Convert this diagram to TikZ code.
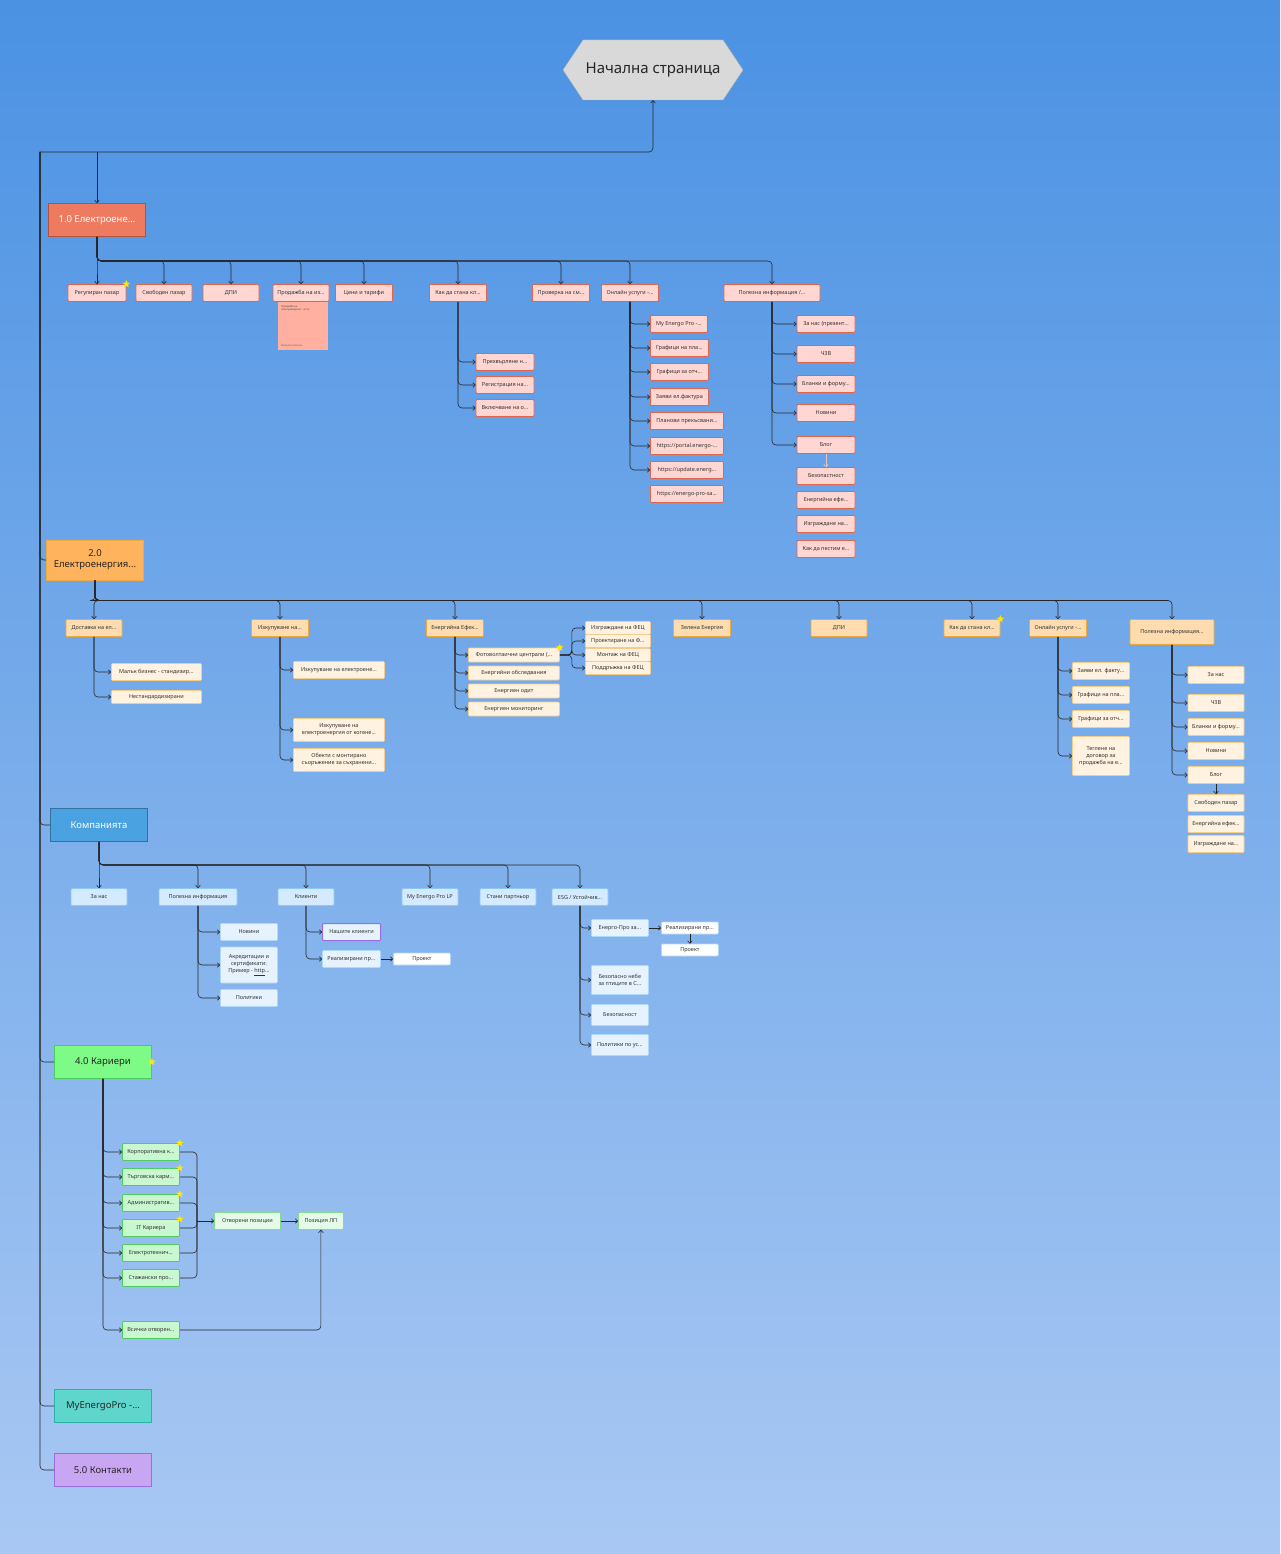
\documentclass[tikz,border=0pt]{standalone}
\usepackage{fontspec}
\setmainfont{Noto Sans}
\usetikzlibrary{shapes.geometric,arrows.meta}

\definecolor{bgtop}{HTML}{4B92E3}
\definecolor{bgbot}{HTML}{A9C8F3}
\definecolor{homegray}{HTML}{D9D9D9}
\definecolor{redsec}{HTML}{EE7B5F}
\definecolor{redline}{HTML}{E0674E}
\definecolor{redfill}{HTML}{FFD6D2}
\definecolor{sticky}{HTML}{FFB0A0}
\definecolor{orsec}{HTML}{FFB35C}
\definecolor{orline}{HTML}{EFAA3E}
\definecolor{orfill}{HTML}{FFDCB0}
\definecolor{crfill}{HTML}{FFF2E0}
\definecolor{blsec}{HTML}{4AA3E0}
\definecolor{blline}{HTML}{8CC8F5}
\definecolor{blfill}{HTML}{D3EAFF}
\definecolor{bllight}{HTML}{E6F3FF}
\definecolor{grsec}{HTML}{7DFB86}
\definecolor{grline}{HTML}{4FCC5E}
\definecolor{grfill}{HTML}{C9F7CF}
\definecolor{grlight}{HTML}{E4FBE7}
\definecolor{tlsec}{HTML}{5FD6CC}
\definecolor{tlline}{HTML}{2AB3A6}
\definecolor{ppsec}{HTML}{C9A6F2}
\definecolor{ppline}{HTML}{9B6EE0}

\tikzset{
  box/.style={draw, rounded corners=1pt, line width=0.8pt, minimum height=17, inner sep=1pt,
    align=center, text=black!80, font=\fontsize{5.5}{7}\selectfont},
  sec/.style={draw, line width=0.9pt, minimum height=33, minimum width=97, inner sep=2pt,
    align=center, font=\fontsize{9.5}{11}\selectfont},
  rb/.style={box, fill=redfill, draw=redline},
  ob/.style={box, fill=orfill, draw=orline},
  cb/.style={box, fill=crfill, draw=orline!60},
  bb/.style={box, fill=blfill, draw=blline},
  lb/.style={box, fill=bllight, draw=blline!70},
  gb/.style={box, fill=grfill, draw=grline},
  wb/.style={box, fill=grlight, draw=grline!70},
  conn/.style={draw=black!85, line width=0.6pt, rounded corners=4, -{To[length=3pt,width=5pt]}},
  line/.style={draw=black!85, line width=0.6pt, rounded corners=4},
  fav/.style={star, star points=5, star point ratio=2.3, fill=yellow!90!orange, draw=none, minimum size=8, inner sep=0}
}

\begin{document}
\begin{tikzpicture}[x=1pt,y=-1pt]
\shade[top color=bgtop, bottom color=bgbot] (0,0) rectangle (1280,1554);
\useasboundingbox (0,0) rectangle (1280,1554);

% Home
\draw[fill=homegray, draw=gray!60] (563,70) -- (583,40) -- (723,40) -- (743,70) -- (723,100) -- (583,100) -- cycle;
\node[minimum width=180, minimum height=60, font=\fontsize{15}{17}\selectfont, text=black!85] (home) at (653,70) {Начална страница};

% Sections
\node[sec, fill=redsec, draw=redline!80!black, text=white] (e10) at (97,220) {1.0 Електроене...};
\node[sec, fill=orsec, draw=orline, minimum height=40, text=black!85] (e20) at (95,560) {2.0\\Електроенергия...};
\node[sec, fill=blsec, draw=blsec!70!black, text=white] (comp) at (99,825) {Компанията};
\node[sec, fill=grsec, draw=grline, text=black!85] (car) at (103,1062) {4.0 Кариери};
\node[sec, fill=tlsec, draw=tlline, text=black!85] (mep) at (103,1406) {MyEnergoPro -...};
\node[sec, fill=ppsec, draw=ppline, text=black!85] (cont) at (103,1470) {5.0 Контакти};
\node[fav] at (car.east) {};

% Trunk
\coordinate (tk) at (40,152);
\coordinate (tk1) at (97,152);
\draw[line, {To[length=3pt,width=5pt]}-] (home.south) |- (tk);
\draw[conn] (tk1) -- (e10.north);
\foreach \s in {e20,comp,car,mep,cont}
  \draw[line] (tk) |- (\s.west);

% ---------- 1.0
\node[rb, minimum width=58] (a1) at (97,293) {Регулиран пазар};
\node[rb, minimum width=56] (a2) at (164,293) {Свободен пазар};
\node[rb, minimum width=56] (a3) at (231,293) {ДПИ};
\node[rb, minimum width=56] (a4) at (301,293) {Продажба на из...};
\node[rb, minimum width=57] (a5) at (364,293) {Цени и тарифи};
\node[rb, minimum width=57] (a6) at (458,293) {Как да стана кл...};
\node[rb, minimum width=57] (a7) at (561,293) {Проверка на см...};
\node[rb, minimum width=57] (a8) at (630,293) {Онлайн услуги -...};
\node[rb, minimum width=96, font=\bfseries\fontsize{5.5}{7}\selectfont] (a9) at (772,293) {Полезна информация /...};
\node[fav] at (a1.north east) {};
\foreach \c in {a1,a2,a3,a4,a5,a6,a7,a8,a9}
  \draw[conn] (e10.south) -- ++(0,24) -| (\c.north);
\node[fill=sticky, minimum width=50, minimum height=48, anchor=north, inner sep=0] (a4n) at (303,302) {};
\node[font=\fontsize{2.5}{3}\selectfont, align=left, anchor=north west, text=black!70] at (a4n.north west) {Продажба на\\електроенергия - чл 53};
\node[font=\fontsize{2.5}{3}\selectfont, anchor=south west, text=black!60] at (a4n.south west) {Ekaterina Ivanova};

\node[rb, minimum width=58, font=\bfseries\fontsize{5.5}{7}\selectfont] (b1) at (505,362) {Прехвърляне н...};
\node[rb, minimum width=58] (b2) at (505,385) {Регистрация на...};
\node[rb, minimum width=58] (b3) at (505,408) {Включване на о...};
\foreach \c in {b1,b2,b3}
  \draw[conn] (a6.south) |- (\c.west);

\node[rb, minimum width=57, anchor=west] (o1) at (650,324) {My Energo Pro -...};
\node[rb, minimum width=58, anchor=west] (o2) at (650,348) {Графици на пла...};
\node[rb, minimum width=58, anchor=west] (o3) at (650,372) {Графици за отч...};
\node[rb, minimum width=58, anchor=west] (o4) at (650,397) {Заяви ел.фактура};
\node[rb, minimum width=73, anchor=west] (o5) at (650,421) {Планови прекъсвани...};
\node[rb, minimum width=73, anchor=west] (o6) at (650,446) {https://portal.energo-...};
\node[rb, minimum width=73, anchor=west] (o7) at (650,470) {https://update.energ...};
\node[rb, minimum width=73, anchor=west] (o8) at (650,494) {https://energo-pro-sa...};
\foreach \c in {o1,o2,o3,o4,o5,o6,o7}
  \draw[conn] (a8.south) |- (\c.west);

\node[rb, minimum width=58] (p1) at (826,324) {За нас (презент...};
\node[rb, minimum width=58] (p2) at (826,354) {ЧЗВ};
\node[rb, minimum width=58] (p3) at (826,384) {Бланки и форму...};
\node[rb, minimum width=58] (p4) at (826,413) {Новини};
\node[rb, minimum width=58] (p5) at (826,445) {Блог};
\node[rb, minimum width=58] (p6) at (826,476) {Безопастност};
\node[rb, minimum width=58] (p7) at (826,500) {Енергийна ефе...};
\node[rb, minimum width=58] (p8) at (826,524) {Изграждане на...};
\node[rb, minimum width=58] (p9) at (826,549) {Как да пестим е...};
\foreach \c in {p1,p2,p3,p4,p5}
  \draw[conn] (a9.south) |- (\c.west);
\draw[conn, draw=redfill!80!gray] (p5.south) -- (p6.north);

% ---------- 2.0
\node[ob, minimum width=56] (d1) at (94,628) {Доставка на ел...};
\node[ob, minimum width=57] (d2) at (280,628) {Изкупуване на...};
\node[ob, minimum width=57] (d3) at (455,628) {Енергийна Ефек...};
\node[ob, minimum width=57] (d4) at (702,628) {Зелена Енергия};
\node[ob, minimum width=56] (d5) at (839,628) {ДПИ};
\node[ob, minimum width=56] (d6) at (972,628) {Как да стана кл...};
\node[ob, minimum width=57] (d7) at (1058,628) {Онлайн услуги -...};
\node[ob, minimum width=84, minimum height=25, font=\bfseries\fontsize{5.5}{7}\selectfont] (d8) at (1172,632) {Полезна информация...};
\node[fav] at (d6.north east) {};
\foreach \c in {d1,d2,d3,d4,d5,d6,d7,d8}
  \draw[conn] (e20.south) -- ++(0,20) -| (\c.north);

\node[cb, minimum width=90, anchor=west] (m1) at (111,672) {Малък бизнес - стандизир...};
\node[cb, minimum width=90, anchor=west, minimum height=13] (m2) at (111,697) {Нестандардизирани};
\foreach \c in {m1,m2}
  \draw[conn] (d1.south) |- (\c.west);

\node[cb, minimum width=91, anchor=west] (k1) at (293,670) {Изкупуване на електроене...};
\node[cb, minimum width=91, anchor=west, minimum height=23] (k2) at (293,730) {Изкупуване на\\електроенергия от когене...};
\node[cb, minimum width=91, anchor=west, minimum height=23] (k3) at (293,760) {Обекти с монтирано\\съоръжение за съхранени...};
\foreach \c in {k1,k2,k3}
  \draw[conn] (d2.south) |- (\c.west);

\node[cb, minimum width=91, anchor=west, minimum height=14] (g1) at (468,655) {Фотоволтаични централи (...};
\node[cb, minimum width=91, anchor=west, minimum height=14] (g2) at (468,673) {Енергийни обследвания};
\node[cb, minimum width=91, anchor=west, minimum height=14] (g3) at (468,691) {Енергиен одит};
\node[cb, minimum width=91, anchor=west, minimum height=14] (g4) at (468,709) {Енергиен мониторинг};
\node[fav] at (g1.north east) {};
\foreach \c in {g1,g2,g3,g4}
  \draw[conn] (d3.south) |- (\c.west);
\node[cb, minimum width=65, anchor=west, minimum height=13] (f1) at (585,628) {Изграждане на ФЕЦ};
\node[cb, minimum width=65, anchor=west, minimum height=13] (f2) at (585,641) {Проектиране на Ф...};
\node[cb, minimum width=65, anchor=west, minimum height=13] (f3) at (585,655) {Монтаж на ФЕЦ};
\node[cb, minimum width=65, anchor=west, minimum height=13] (f4) at (585,668) {Поддръжка на ФЕЦ};
\foreach \c in {f1,f2,f3,f4}
  \draw[conn] (g1.east) -- ++(12,0) |- (\c.west);

\node[cb, minimum width=57, anchor=west] (n1) at (1072,671) {Заяви ел. факту...};
\node[cb, minimum width=57, anchor=west] (n2) at (1072,695) {Графици на пла...};
\node[cb, minimum width=57, anchor=west] (n3) at (1072,719) {Графици за отч...};
\node[cb, minimum width=57, anchor=west, minimum height=39] (n4) at (1072,756) {Теглене на\\договор за\\продажба на е...};
\foreach \c in {n1,n2,n3,n4}
  \draw[conn] (d7.south) |- (\c.west);

\node[cb, minimum width=56] (q1) at (1216,675) {За нас};
\node[cb, minimum width=56] (q2) at (1216,703) {ЧЗВ};
\node[cb, minimum width=56] (q3) at (1216,727) {Бланки и форму...};
\node[cb, minimum width=56] (q4) at (1216,751) {Новини};
\node[cb, minimum width=56] (q5) at (1216,775) {Блог};
\node[cb, minimum width=56] (q6) at (1216,803) {Свободен пазар};
\node[cb, minimum width=56] (q7) at (1216,824) {Енергийна ефек...};
\node[cb, minimum width=56] (q8) at (1216,844) {Изграждане на...};
\foreach \c in {q1,q2,q3,q4,q5}
  \draw[conn] (d8.south) |- (\c.west);
\draw[conn] (q5.south) -- (q6.north);

% ---------- Компанията
\node[bb, minimum width=56] (h1) at (99,897) {За нас};
\node[bb, minimum width=78, font=\bfseries\fontsize{5.5}{7}\selectfont] (h2) at (198,897) {Полезна информация};
\node[bb, minimum width=56] (h3) at (306,897) {Клиенти};
\node[bb, minimum width=56] (h4) at (430,897) {My Energo Pro LP};
\node[bb, minimum width=56] (h5) at (508,897) {Стани партньор};
\node[bb, minimum width=56] (h6) at (580,897) {ESG / Устойчив...};
\foreach \c in {h1,h2,h3,h4,h5,h6}
  \draw[conn] (comp.south) -- ++(0,23) -| (\c.north);

\node[lb, minimum width=57, anchor=west] (u1) at (220,932) {Новини};
\node[lb, minimum width=57, anchor=west, minimum height=36] (u2) at (220,965) {Акредитации и\\сертификати:\\Пример - \underline{http}...};
\node[lb, minimum width=57, anchor=west] (u3) at (220,998) {Политики};
\foreach \c in {u1,u2,u3}
  \draw[conn] (h2.south) |- (\c.west);

\node[lb, minimum width=58, anchor=west, draw=ppline, line width=1pt] (v1) at (322,932) {Нашите клиенти};
\node[lb, minimum width=58, anchor=west] (v2) at (322,959) {Реализирани пр...};
\node[lb, fill=white, minimum width=57, anchor=west, minimum height=12] (v3) at (393,959) {Проект};
\foreach \c in {v1,v2}
  \draw[conn] (h3.south) |- (\c.west);
\draw[conn] (v2.east) -- (v3.west);

\node[lb, minimum width=57, anchor=west] (w1) at (591,928) {Енерго-Про за...};
\node[lb, fill=white, minimum width=57, anchor=west, minimum height=12] (w2) at (661,928) {Реализирани пр...};
\node[lb, fill=white, minimum width=57, anchor=west, minimum height=12] (w3) at (661,950) {Проект};
\node[lb, minimum width=57, anchor=west, minimum height=29] (w4) at (591,980) {Безопасно небе\\за птиците в С...};
\node[lb, minimum width=57, anchor=west, minimum height=21] (w5) at (591,1015) {Безопасност};
\node[lb, minimum width=57, anchor=west, minimum height=21] (w6) at (591,1045) {Политики по ус...};
\foreach \c in {w1,w4,w5,w6}
  \draw[conn] (h6.south) |- (\c.west);
\draw[conn] (w1.east) -- (w2.west);
\draw[conn] (w2.south) -- (w3.north);

% ---------- Кариери
\node[gb, minimum width=57, anchor=west] (j1) at (122,1152) {Корпоративна к...};
\node[gb, minimum width=57, anchor=west] (j2) at (122,1177) {Търговска карм...};
\node[gb, minimum width=57, anchor=west] (j3) at (122,1203) {Административ...};
\node[gb, minimum width=57, anchor=west] (j4) at (122,1228) {IT Кариера};
\node[gb, minimum width=57, anchor=west] (j5) at (122,1253) {Електротехнич...};
\node[gb, minimum width=57, anchor=west] (j6) at (122,1278) {Стажански про...};
\node[gb, minimum width=57, anchor=west] (j7) at (122,1330) {Всички отворен...};
\foreach \c in {j1,j2,j3,j4}
  \node[fav] at (\c.north east) {};
\foreach \c in {j1,j2,j3,j4,j5,j6,j7}
  \draw[conn] (car.south) |- (\c.west);
\node[wb, minimum width=66, anchor=west] (op) at (214,1221) {Отворени позиции};
\node[wb, minimum width=45, anchor=west] (lp) at (298,1221) {Позиция ЛП};
\coordinate (mrg) at (197,1221);
\foreach \c in {j1,j2,j3,j4,j5,j6}
  \draw[line] (\c.east) -| (mrg);
\draw[conn] (mrg) -- (op.west);
\draw[conn] (op.east) -- (lp.west);
\draw[conn] (j7.east) -| (lp.south);
\end{tikzpicture}
\end{document}
